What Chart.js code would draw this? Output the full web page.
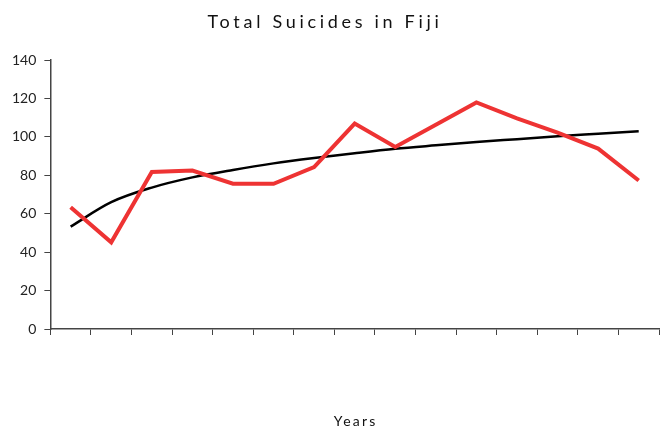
<!DOCTYPE html>
<html><head><meta charset="utf-8">
<script src="https://cdn.jsdelivr.net/npm/chart.js@4/dist/chart.umd.min.js"></script>
<style>html,body{margin:0;padding:0;background:#fff;}canvas{display:block;}</style>
</head><body>
<canvas id="c" width="661" height="428"></canvas>
<script>
const TITLE = 'Total Suicides in Fiji';
const X_TITLE = 'Years';
const categories = ['1','2','3','4','5','6','7','8','9','10','11','12','13','14','15'];
const suicides = [63.4, 45.1, 81.7, 82.5, 75.6, 75.6, 84.3, 106.9, 94.7, 106.3, 117.9, 109.6, 102.2, 93.9, 77.3];
const trend = [53.3, 66.0, 73.6, 78.9, 82.8, 86.2, 89.0, 91.5, 93.8, 95.6, 97.3, 98.8, 100.3, 101.6, 102.9];
const yTicks = [0, 20, 40, 60, 80, 100, 120, 140];

const FONT = 'Lato, "Open Sans", sans-serif';
const spacedText = {
  id: 'spacedText',
  afterDraw(chart) {
    const ctx = chart.ctx;
    const ca = chart.chartArea;
    ctx.save();
    ctx.fillStyle = '#111';
    ctx.textAlign = 'center';
    ctx.textBaseline = 'middle';
    ctx.font = '18px ' + FONT;
    ctx.letterSpacing = '3.7px';
    ctx.fillText(TITLE, 325, 22);
    ctx.font = '14px ' + FONT;
    ctx.letterSpacing = '2.2px';
    ctx.fillText(X_TITLE, (ca.left + ca.right) / 2 + 1, 421);
    ctx.restore();
  }
};

new Chart(document.getElementById('c'), {
  type: 'line',
  data: {
    labels: categories,
    datasets: [
      { label: 'Total Suicides', data: suicides, borderColor: '#EE3333', borderWidth: 4,
        pointRadius: 0, tension: 0, borderJoinStyle: 'miter', fill: false },
      { label: 'Trend', data: trend, borderColor: '#000', borderWidth: 2.5,
        pointRadius: 0, cubicInterpolationMode: 'monotone', fill: false }
    ]
  },
  options: {
    responsive: false,
    animation: false,
    layout: { padding: { top: 60, left: 4, right: 2, bottom: 93 } },
    plugins: { legend: { display: false }, title: { display: false }, tooltip: { enabled: false } },
    scales: {
      x: {
        offset: true,
        grid: { offset: true, drawOnChartArea: false, tickLength: 6, color: '#444', lineWidth: 1 },
        border: { color: '#444', width: 1.5 },
        ticks: { display: false }
      },
      y: {
        min: 0, max: 140,
        afterBuildTicks(scale) { scale.ticks = yTicks.map(v => ({ value: v })); },
        grid: { drawOnChartArea: false, tickLength: 6, color: '#444', lineWidth: 1 },
        border: { color: '#444', width: 1.5 },
        ticks: { color: '#222', padding: 8, font: { family: FONT, size: 14 } }
      }
    }
  },
  plugins: [spacedText]
});
</script>
</body></html>
